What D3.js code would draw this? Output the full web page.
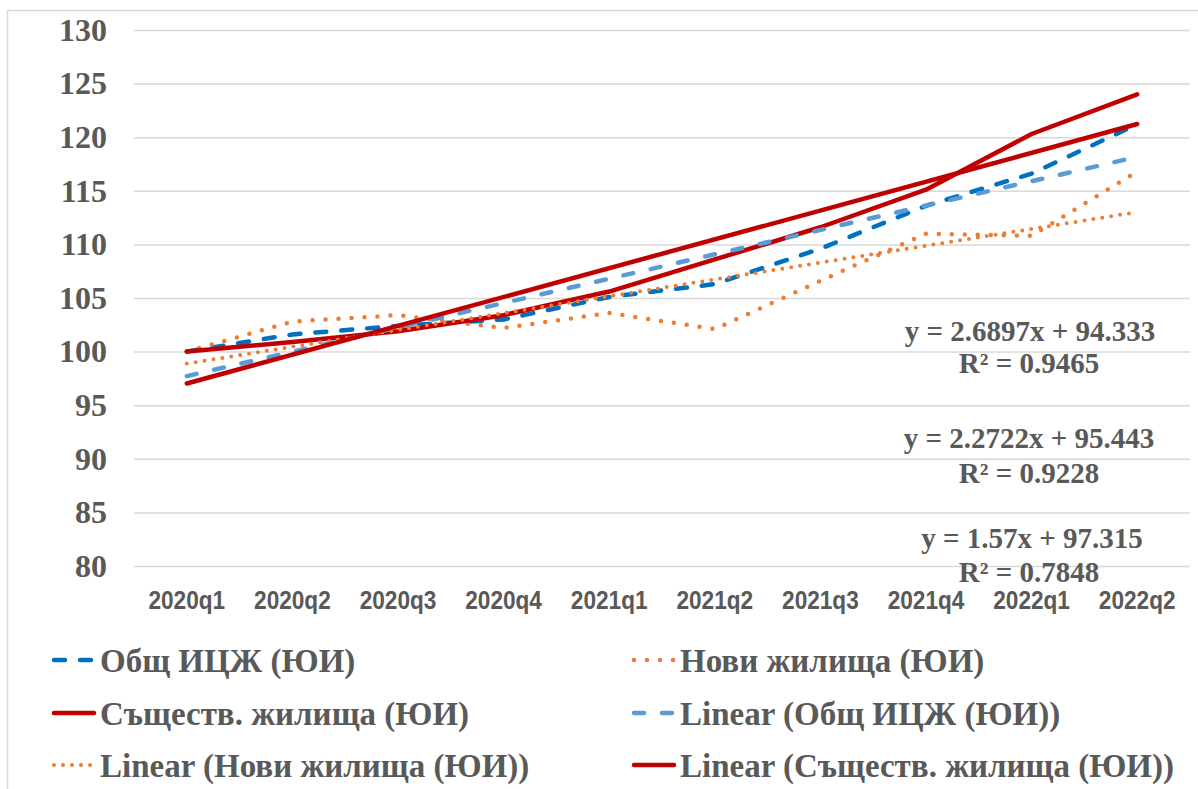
<!DOCTYPE html>
<html>
<head>
<meta charset="utf-8">
<script src="https://cdn.jsdelivr.net/npm/d3@7"></script>
<style>
  body { margin: 0; background: #fff; }
  svg { display: block; }
</style>
</head>
<body>
<div id="chart"></div>
<script>
// Данни
const quarters = ["2020q1", "2020q2", "2020q3", "2020q4", "2021q1", "2021q2", "2021q3", "2021q4", "2022q1", "2022q2"];
const obshtIcj = [100, 101.6, 102.4, 103.0, 105.1, 106.3, 109.6, 113.6, 116.6, 121.2];
const noviZhilishta = [100, 102.8, 103.4, 102.2, 103.6, 102.1, 106.6, 111.0, 110.8, 116.8];
const sashtZhilishta = [100, 100.9, 101.9, 103.4, 105.6, 108.6, 111.6, 115.1, 120.3, 124.0];
const yTicks = [80, 85, 90, 95, 100, 105, 110, 115, 120, 125, 130];

// коефициенти на линейните трендове (от надписите)
const trendSlopes = [2.2722, 1.57, 2.6897];
const trendIntercepts = [95.443, 97.315, 94.333];
const eqTexts = ["y = 2.6897x + 94.333", "R² = 0.9465", "y = 2.2722x + 95.443", "R² = 0.9228", "y = 1.57x + 97.315", "R² = 0.7848"];

const legendNames = ["Общ ИЦЖ (ЮИ)", "Нови жилища (ЮИ)", "Съществ. жилища (ЮИ)", "Linear (Общ ИЦЖ (ЮИ))", "Linear (Нови жилища (ЮИ))", "Linear (Съществ. жилища (ЮИ))"];

// Размери
const width = 1198, height = 789;
const plot = { left: 134, right: 1190, top: 30, bottom: 566 };
const textColor = "#595959";

const svg = d3.select("#chart").append("svg")
  .attr("width", width)
  .attr("height", height);

svg.append("rect")
  .attr("x", 7.5).attr("y", 10.5)
  .attr("width", 1210).attr("height", 800)
  .attr("fill", "white")
  .attr("stroke", "#d9d9d9")
  .attr("stroke-width", 1.5);

const x = d3.scaleBand().domain(quarters).range([plot.left, plot.right]);
const xc = q => x(q) + x.bandwidth() / 2;
const y = d3.scaleLinear().domain([80, 130]).range([plot.bottom, plot.top]);

// Ос Y с мрежа
const yAxis = svg.append("g")
  .attr("transform", `translate(${plot.left},0)`)
  .call(d3.axisLeft(y).tickValues(yTicks).tickSizeInner(-(plot.right - plot.left)).tickSizeOuter(0).tickPadding(27));
yAxis.select(".domain").remove();
yAxis.selectAll(".tick line").attr("stroke", "#d9d9d9").attr("stroke-width", 1.5);
yAxis.selectAll(".tick text")
  .attr("fill", textColor)
  .style("font-family", "'Liberation Serif', 'Times New Roman', serif")
  .style("font-weight", "bold")
  .style("font-size", "32px");

// Ос X (тесен шрифт - свиваме по хоризонтала)
const xAxis = svg.append("g")
  .attr("transform", `translate(0,${plot.bottom})`)
  .call(d3.axisBottom(x).tickSize(0).tickPadding(25));
xAxis.select(".domain").remove();
xAxis.selectAll(".tick text")
  .attr("fill", textColor)
  .attr("transform", "scale(0.87,1)")
  .style("font-family", "'Liberation Sans', Arial, sans-serif")
  .style("font-weight", "bold")
  .style("font-size", "26px");

// Стилове на линиите
const styles = [
  { color: "#0070c0", width: 4.5, dash: "11,15" },   // Общ
  { color: "#ed7d31", width: 4.5, dash: "0,13" },    // Нови
  { color: "#c00000", width: 4.5, dash: null },      // Съществ.
  { color: "#5b9bd5", width: 4.5, dash: "10,18" },   // Linear Общ
  { color: "#ed7d31", width: 4, dash: "0,9" },       // Linear Нови
  { color: "#c00000", width: 4.5, dash: null }       // Linear Съществ.
];

const line = d3.line()
  .x((d, i) => xc(quarters[i]))
  .y(d => y(d));

const series = [obshtIcj, noviZhilishta, sashtZhilishta];
const trends = trendSlopes.map((s, k) => {
  const first = 0, last = quarters.length - 1;
  return [
    { q: quarters[first], v: s * (first + 1) + trendIntercepts[k] },
    { q: quarters[last], v: s * (last + 1) + trendIntercepts[k] }
  ];
});

function applyStyle(sel, st) {
  sel.attr("fill", "none")
    .attr("stroke", st.color)
    .attr("stroke-width", st.width)
    .attr("stroke-linecap", "round")
    .attr("stroke-linejoin", "round");
  if (st.dash) sel.attr("stroke-dasharray", st.dash);
}

series.forEach((vals, k) => {
  svg.append("path").attr("d", line(vals)).call(applyStyle, styles[k]);
});

const trendLine = d3.line().x(d => xc(d.q)).y(d => y(d.v));
trends.forEach((t, k) => {
  svg.append("path").attr("d", trendLine(t)).call(applyStyle, styles[k + 3]);
});

// Уравнения на трендовете
const eqPos = [[1030, 341], [1029, 373], [1029, 448], [1029, 483], [1032, 548], [1029, 582]];
svg.selectAll(".eq")
  .data(eqTexts)
  .enter()
  .append("text")
  .attr("class", "eq")
  .attr("x", (d, i) => eqPos[i][0])
  .attr("y", (d, i) => eqPos[i][1])
  .attr("text-anchor", "middle")
  .attr("fill", textColor)
  .style("font-family", "'Liberation Serif', 'Times New Roman', serif")
  .style("font-weight", "bold")
  .style("font-size", "29px")
  .text(d => d);

// Легенда
const legendCols = [52, 632];
const legendRows = [660, 713, 765];
const legend = svg.selectAll(".legend")
  .data(legendNames)
  .enter()
  .append("g")
  .attr("class", "legend")
  .attr("transform", (d, i) => `translate(${legendCols[i % 2]},${legendRows[Math.floor(i / 2)]})`);

legend.append("line")
  .attr("x1", 2).attr("x2", 42)
  .attr("y1", 0).attr("y2", 0)
  .each(function (d, i) { d3.select(this).call(applyStyle, styles[i]); });

legend.append("text")
  .attr("x", 48)
  .attr("y", 0)
  .attr("dy", "0.35em")
  .attr("fill", textColor)
  .style("font-family", "'Liberation Serif', 'Times New Roman', serif")
  .style("font-weight", "bold")
  .style("font-size", "33px")
  .text(d => d);
</script>
</body>
</html>
